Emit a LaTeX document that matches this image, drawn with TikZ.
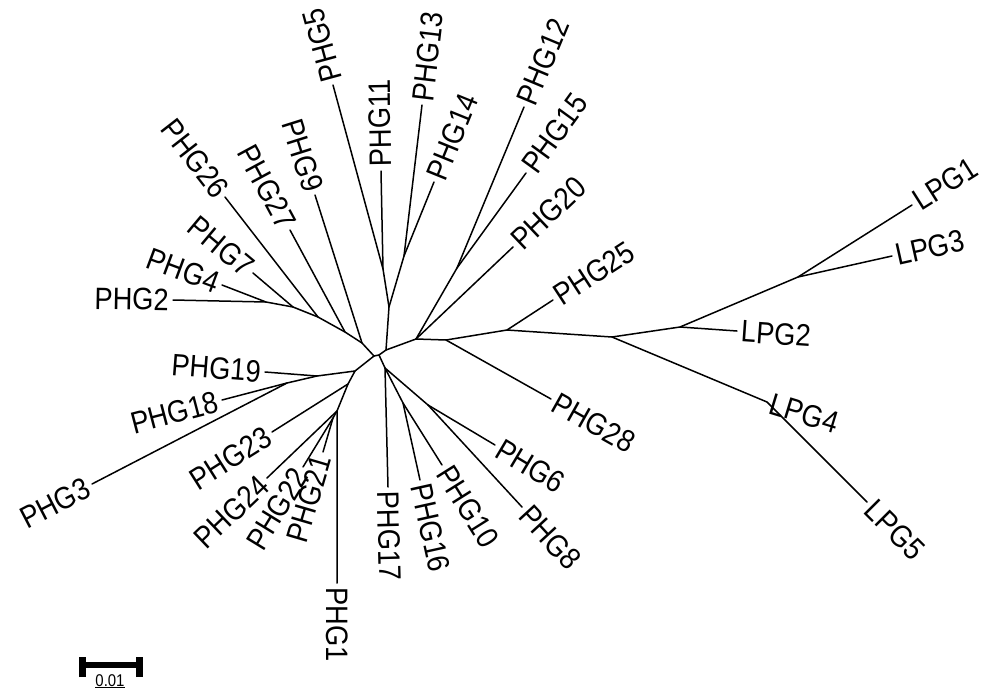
\documentclass[tikz,border=0pt]{standalone}
\usepackage{fontspec}
\setmainfont{Liberation Sans}[FakeStretch=0.88]
\begin{document}
\begin{tikzpicture}[x=1pt,y=-1pt,
  br/.style={line width=1.5pt,line cap=round,line join=round},
  lbl/.style={font=\fontsize{31}{35}\selectfont,inner sep=4pt},
  tipr/.style={lbl,anchor=west,rotate=#1},
  tipl/.style={lbl,anchor=east,rotate=#1}]
\useasboundingbox[fill=white] (0,0) rectangle (985,691);

% ---- internal nodes ----
\coordinate (cL) at (374,356);
\coordinate (cR) at (379,355);
% upper-left clade
\coordinate (u1) at (362,343);
\coordinate (u2) at (345,332);
\coordinate (u3) at (318,317);
\coordinate (u4) at (293,307);
\coordinate (u5) at (266,302);
% upper clade
\coordinate (a1) at (386,350);
\coordinate (a2) at (389,307);
\coordinate (a3) at (383,269);
\coordinate (a4) at (404,256);
% right clade
\coordinate (b1) at (416,339);
\coordinate (b2) at (457,268);
\coordinate (c1) at (446,340);
\coordinate (d1) at (507,330);
\coordinate (e1) at (612,337);
\coordinate (f1) at (680,327);
\coordinate (g1) at (798,277);
\coordinate (h1) at (767,402);
% lower-left clade
\coordinate (k1) at (355,371);
\coordinate (k2) at (317,376);
\coordinate (k3) at (287,383);
\coordinate (k4) at (348,384);
\coordinate (k5) at (337,411);
\coordinate (k6) at (333,418);
% lower-right clade
\coordinate (m1) at (385,368);
\coordinate (m2) at (403,403);
\coordinate (m3) at (428,405);

% ---- leaf tips ----
\coordinate (tPHG2) at (173,300);
\coordinate (tPHG4) at (222,285);
\coordinate (tPHG7) at (253,273);
\coordinate (tPHG26) at (225,197);
\coordinate (tPHG27) at (290,230);
\coordinate (tPHG9) at (315,195);
\coordinate (tPHG5) at (333,85);
\coordinate (tPHG11) at (381,171);
\coordinate (tPHG13) at (422,105);
\coordinate (tPHG14) at (434,182);
\coordinate (tPHG12) at (524,107);
\coordinate (tPHG15) at (526,173);
\coordinate (tPHG20) at (513,247);
\coordinate (tPHG25) at (553,300);
\coordinate (tPHG28) at (551,399);
\coordinate (tLPG2) at (737,331);
\coordinate (tLPG1) at (912,205);
\coordinate (tLPG3) at (892,256);
\coordinate (tLPG5) at (867,502);
\coordinate (tPHG6) at (495,445);
\coordinate (tPHG8) at (522,507);
\coordinate (tPHG10) at (442,465);
\coordinate (tPHG16) at (420,480);
\coordinate (tPHG17) at (388,487);
\coordinate (tPHG1) at (337,583);
\coordinate (tPHG21) at (323,452);
\coordinate (tPHG22) at (303,467);
\coordinate (tPHG24) at (267,478);
\coordinate (tPHG23) at (272,432);
\coordinate (tPHG3) at (92,484);
\coordinate (tPHG18) at (222,400);
\coordinate (tPHG19) at (265,372);

% ---- branches ----
\draw[br] (cL) -- (cR);
% upper-left
\draw[br] (cL) -- (u1) -- (u2) -- (u3) -- (u4) -- (u5) -- (tPHG2);
\draw[br] (u5) -- (tPHG4);
\draw[br] (u4) -- (tPHG7);
\draw[br] (u3) -- (tPHG26);
\draw[br] (u2) -- (tPHG27);
\draw[br] (u1) -- (tPHG9);
% upper
\draw[br] (cR) -- (a1) -- (a2) -- (a3) -- (tPHG5);
\draw[br] (a3) -- (tPHG11);
\draw[br] (a2) -- (a4) -- (tPHG13);
\draw[br] (a4) -- (tPHG14);
% right
\draw[br] (a1) -- (b1) -- (b2) -- (tPHG12);
\draw[br] (b2) -- (tPHG15);
\draw[br] (b1) -- (tPHG20);
\draw[br] (b1) -- (c1) -- (tPHG28);
\draw[br] (c1) -- (d1) -- (tPHG25);
\draw[br] (d1) -- (e1) -- (f1) -- (tLPG2);
\draw[br] (f1) -- (g1) -- (tLPG1);
\draw[br] (g1) -- (tLPG3);
\draw[br] (e1) -- (h1) -- (tLPG5);
% lower-right
\draw[br] (cR) -- (m1) -- (tPHG17);
\draw[br] (m1) -- (m2) -- (tPHG16);
\draw[br] (m2) -- (tPHG10);
\draw[br] (m1) -- (m3) -- (tPHG6);
\draw[br] (m3) -- (tPHG8);
% lower-left
\draw[br] (cL) -- (k1) -- (k2) -- (tPHG19);
\draw[br] (k2) -- (k3) -- (tPHG18);
\draw[br] (k3) -- (tPHG3);
\draw[br] (k1) -- (k4) -- (tPHG23);
\draw[br] (k4) -- (k5) -- (tPHG1);
\draw[br] (k5) -- (tPHG24);
\draw[br] (k5) -- (k6) -- (tPHG21);
\draw[br] (k6) -- (tPHG22);

% ---- leaf labels ----
\node[tipl=-1] (lPHG2) at (tPHG2) {PHG2};
\node[tipl=-20.4] (lPHG4) at (tPHG4) {PHG4};
\node[tipl=-39.9] (lPHG7) at (tPHG7) {PHG7};
\node[tipl=-52.1] (lPHG26) at (tPHG26) {PHG26};
\node[tipl=-61.6] (lPHG27) at (tPHG27) {PHG27};
\node[tipl=-72.5] (lPHG9) at (tPHG9) {PHG9};
\node[tipr=105.2] (lPHG5) at (tPHG5) {PHG5};
\node[tipr=91] (lPHG11) at (tPHG11) {PHG11};
\node[tipr=83.2] (lPHG13) at (tPHG13) {PHG13};
\node[tipr=67.9] (lPHG14) at (tPHG14) {PHG14};
\node[tipr=67.4] (lPHG12) at (tPHG12) {PHG12};
\node[tipr=54] (lPHG15) at (tPHG15) {PHG15};
\node[tipr=43.5] (lPHG20) at (tPHG20) {PHG20};
\node[tipr=33.1] (lPHG25) at (tPHG25) {PHG25};
\node[tipr=-29.3] (lPHG28) at (tPHG28) {PHG28};
\node[tipr=-4] (lLPG2) at (tLPG2) {LPG2};
\node[tipr=32.3] (lLPG1) at (tLPG1) {LPG1};
\node[tipr=12.6] (lLPG3) at (tLPG3) {LPG3};
\node[tipr=-17] (lLPG4) at (h1) {LPG4};
\node[tipr=-45] (lLPG5) at (tLPG5) {LPG5};
\node[tipr=-30.8] (lPHG6) at (tPHG6) {PHG6};
\node[tipr=-47.3] (lPHG8) at (tPHG8) {PHG8};
\node[tipr=-57.8] (lPHG10) at (tPHG10) {PHG10};
\node[tipr=-77.5] (lPHG16) at (tPHG16) {PHG16};
\node[tipr=-88.6] (lPHG17) at (tPHG17) {PHG17};
\node[tipr=-90] (lPHG1) at (tPHG1) {PHG1};
\node[tipl=73.6] (lPHG21) at (tPHG21) {PHG21};
\node[tipl=58.5] (lPHG22) at (tPHG22) {PHG22};
\node[tipl=43.7] (lPHG24) at (tPHG24) {PHG24};
\node[tipl=32.3] (lPHG23) at (tPHG23) {PHG23};
\node[tipl=27.4] (lPHG3) at (tPHG3) {PHG3};
\node[tipl=14.7] (lPHG18) at (tPHG18) {PHG18};
\node[tipl=-4.4] (lPHG19) at (tPHG19) {PHG19};

% ---- scale bar ----
\coordinate (sbL) at (82,665);
\coordinate (sbR) at (139.5,665);
\draw[line width=5.5pt] (sbL) -- (sbR);
\draw[line width=7pt] ([yshift=-12pt]sbL) -- ([yshift=8pt]sbL);
\draw[line width=7pt] ([yshift=-12pt]sbR) -- ([yshift=8pt]sbR);
\node[font=\fontsize{17}{19}\selectfont,inner sep=0pt,anchor=north] (sbT) at (110,674) {\underline{0.01}};
\end{tikzpicture}
\end{document}
